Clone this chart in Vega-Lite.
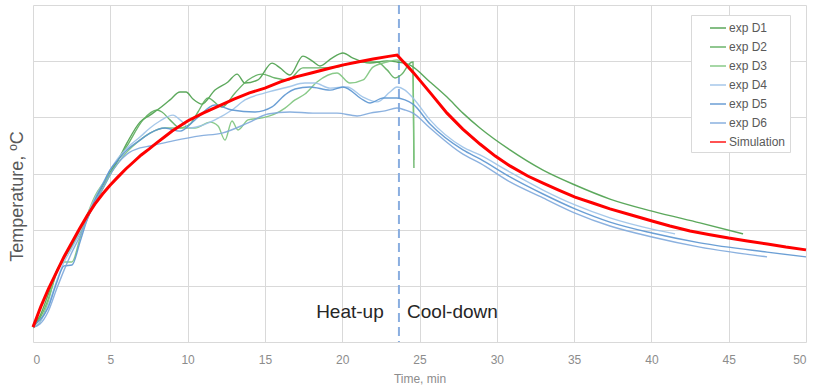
{
  "$schema": "https://vega.github.io/schema/vega-lite/v6.json",
  "width": 773,
  "height": 337,
  "autosize": {"type": "none"},
  "padding": {"left": 33, "top": 5, "right": 10, "bottom": 47},
  "background": "white",
  "config": {
    "font": "Liberation Sans",
    "view": {"stroke": null},
    "axis": {"gridColor": "#d9d9d9", "gridWidth": 1, "domain": false, "ticks": false}
  },
  "datasets": {
    "curves": [
      {"series":"exp D1","time":0,"temp":25.7},{"series":"exp D1","time":0.45,"temp":29.3},{"series":"exp D1","time":0.97,"temp":36.7},{"series":"exp D1","time":1.55,"temp":45.6},{"series":"exp D1","time":2.01,"temp":49.9},{"series":"exp D1","time":2.52,"temp":54.5},{"series":"exp D1","time":3.04,"temp":59.9},{"series":"exp D1","time":3.49,"temp":65.2},{"series":"exp D1","time":4.01,"temp":70.6},{"series":"exp D1","time":4.53,"temp":75.9},{"series":"exp D1","time":4.98,"temp":80.5},{"series":"exp D1","time":5.5,"temp":84.8},{"series":"exp D1","time":6.08,"temp":90.9},{"series":"exp D1","time":6.92,"temp":98.3},{"series":"exp D1","time":7.57,"temp":100.8},{"series":"exp D1","time":8.21,"temp":103.3},{"series":"exp D1","time":8.86,"temp":106.2},{"series":"exp D1","time":9.51,"temp":109.0},{"series":"exp D1","time":9.9,"temp":109.0},{"series":"exp D1","time":10.35,"temp":106.5},{"series":"exp D1","time":10.93,"temp":104.7},{"series":"exp D1","time":11.77,"temp":109.7},{"series":"exp D1","time":12.61,"temp":112.6},{"series":"exp D1","time":13.2,"temp":115.4},{"series":"exp D1","time":13.71,"temp":112.2},{"series":"exp D1","time":14.55,"temp":113.3},{"series":"exp D1","time":15.46,"temp":119.3},{"series":"exp D1","time":15.98,"temp":117.6},{"series":"exp D1","time":16.62,"temp":115.1},{"series":"exp D1","time":17.46,"temp":121.8},{"series":"exp D1","time":18.05,"temp":120.1},{"series":"exp D1","time":18.56,"temp":118.3},{"series":"exp D1","time":19.34,"temp":121.1},{"series":"exp D1","time":20.05,"temp":122.9},{"series":"exp D1","time":20.7,"temp":121.1},{"series":"exp D1","time":21.8,"temp":119.3},{"series":"exp D1","time":22.9,"temp":120.1},{"series":"exp D1","time":23.54,"temp":119.7},{"series":"exp D1","time":24.39,"temp":118.6},{"series":"exp D1","time":25.68,"temp":112.6},{"series":"exp D1","time":26.78,"temp":107.2},{"series":"exp D1","time":27.81,"temp":101.5},{"series":"exp D1","time":28.91,"temp":96.2},{"series":"exp D1","time":30.85,"temp":88.4},{"series":"exp D1","time":32.99,"temp":81.2},{"series":"exp D1","time":35.06,"temp":75.9},{"series":"exp D1","time":37.32,"temp":70.9},{"series":"exp D1","time":40.04,"temp":66.6},{"series":"exp D1","time":43.14,"temp":62.4},{"series":"exp D1","time":45.93,"temp":58.5},

      {"series":"exp D2","time":0,"temp":25.3},{"series":"exp D2","time":0.45,"temp":28.5},{"series":"exp D2","time":0.97,"temp":35.0},{"series":"exp D2","time":1.55,"temp":44.9},{"series":"exp D2","time":2.01,"temp":49.9},{"series":"exp D2","time":2.52,"temp":54.2},{"series":"exp D2","time":3.04,"temp":58.8},{"series":"exp D2","time":3.49,"temp":63.8},{"series":"exp D2","time":4.01,"temp":69.5},{"series":"exp D2","time":4.53,"temp":74.8},{"series":"exp D2","time":4.98,"temp":79.5},{"series":"exp D2","time":5.5,"temp":84.8},{"series":"exp D2","time":6.08,"temp":89.8},{"series":"exp D2","time":7.12,"temp":99.1},{"series":"exp D2","time":8.02,"temp":102.6},{"series":"exp D2","time":8.34,"temp":101.9},{"series":"exp D2","time":8.86,"temp":99.1},{"series":"exp D2","time":9.51,"temp":96.2},{"series":"exp D2","time":10.16,"temp":97.6},{"series":"exp D2","time":10.67,"temp":101.9},{"series":"exp D2","time":11.32,"temp":106.9},{"series":"exp D2","time":12.23,"temp":103.7},{"series":"exp D2","time":13.07,"temp":108.7},{"series":"exp D2","time":13.91,"temp":113.3},{"series":"exp D2","time":14.81,"temp":115.4},{"series":"exp D2","time":15.65,"temp":114.0},{"series":"exp D2","time":16.49,"temp":113.3},{"series":"exp D2","time":17.46,"temp":117.6},{"series":"exp D2","time":18.37,"temp":117.6},{"series":"exp D2","time":19.66,"temp":117.9},{"series":"exp D2","time":20.96,"temp":119.7},{"series":"exp D2","time":22.25,"temp":119.7},{"series":"exp D2","time":22.9,"temp":116.9},{"series":"exp D2","time":23.42,"temp":114.0},{"series":"exp D2","time":23.87,"temp":115.4},{"series":"exp D2","time":24.39,"temp":119.3},{"series":"exp D2","time":24.58,"temp":119.7},{"series":"exp D2","time":24.64,"temp":82.0},

      {"series":"exp D3","time":0,"temp":25.0},{"series":"exp D3","time":0.45,"temp":27.1},{"series":"exp D3","time":0.97,"temp":34.2},{"series":"exp D3","time":1.55,"temp":45.6},{"series":"exp D3","time":2.01,"temp":48.5},{"series":"exp D3","time":2.52,"temp":48.5},{"series":"exp D3","time":3.04,"temp":57.0},{"series":"exp D3","time":3.49,"temp":64.9},{"series":"exp D3","time":4.01,"temp":72.0},{"series":"exp D3","time":4.53,"temp":76.5},{"series":"exp D3","time":4.98,"temp":79.8},{"series":"exp D3","time":5.5,"temp":83.7},{"series":"exp D3","time":6.08,"temp":87.7},{"series":"exp D3","time":6.92,"temp":91.9},{"series":"exp D3","time":7.57,"temp":94.4},{"series":"exp D3","time":8.54,"temp":96.2},{"series":"exp D3","time":9.51,"temp":96.2},{"series":"exp D3","time":10.48,"temp":96.2},{"series":"exp D3","time":11.45,"temp":98.3},{"series":"exp D3","time":11.97,"temp":96.9},{"series":"exp D3","time":12.42,"temp":91.9},{"series":"exp D3","time":12.87,"temp":98.7},{"series":"exp D3","time":13.26,"temp":95.5},{"series":"exp D3","time":13.91,"temp":99.1},{"series":"exp D3","time":14.81,"temp":99.8},{"series":"exp D3","time":15.65,"temp":101.2},{"series":"exp D3","time":16.3,"temp":103.3},{"series":"exp D3","time":16.95,"temp":106.2},{"series":"exp D3","time":17.59,"temp":108.3},{"series":"exp D3","time":18.37,"temp":112.6},{"series":"exp D3","time":19.66,"temp":115.8},{"series":"exp D3","time":20.5,"temp":112.2},{"series":"exp D3","time":21.35,"temp":113.3},{"series":"exp D3","time":21.99,"temp":117.9},{"series":"exp D3","time":22.9,"temp":119.7},{"series":"exp D3","time":23.54,"temp":120.4},{"series":"exp D3","time":24.06,"temp":119.7},{"series":"exp D3","time":24.39,"temp":117.6},{"series":"exp D3","time":24.58,"temp":115.1},{"series":"exp D3","time":24.64,"temp":84.8},

      {"series":"exp D4","time":0,"temp":25.3},{"series":"exp D4","time":0.45,"temp":27.1},{"series":"exp D4","time":0.97,"temp":32.8},{"series":"exp D4","time":1.55,"temp":42.1},{"series":"exp D4","time":2.01,"temp":48.5},{"series":"exp D4","time":2.52,"temp":53.5},{"series":"exp D4","time":3.04,"temp":59.2},{"series":"exp D4","time":3.49,"temp":64.9},{"series":"exp D4","time":4.01,"temp":71.3},{"series":"exp D4","time":4.53,"temp":76.6},{"series":"exp D4","time":4.98,"temp":81.2},{"series":"exp D4","time":5.5,"temp":85.5},{"series":"exp D4","time":6.08,"temp":89.1},{"series":"exp D4","time":6.92,"temp":93.0},{"series":"exp D4","time":7.57,"temp":96.2},{"series":"exp D4","time":8.21,"temp":98.7},{"series":"exp D4","time":9.06,"temp":100.8},{"series":"exp D4","time":9.51,"temp":99.1},{"series":"exp D4","time":10.16,"temp":96.2},{"series":"exp D4","time":10.8,"temp":96.9},{"series":"exp D4","time":11.77,"temp":99.1},{"series":"exp D4","time":12.87,"temp":102.6},{"series":"exp D4","time":13.71,"temp":106.2},{"series":"exp D4","time":15.01,"temp":108.7},{"series":"exp D4","time":16.49,"temp":110.8},{"series":"exp D4","time":17.59,"temp":112.2},{"series":"exp D4","time":18.24,"temp":112.2},{"series":"exp D4","time":19.21,"temp":110.4},{"series":"exp D4","time":20.31,"temp":110.8},{"series":"exp D4","time":21.35,"temp":107.2},{"series":"exp D4","time":22.25,"temp":105.5},{"series":"exp D4","time":23.09,"temp":109.0},{"series":"exp D4","time":23.54,"temp":110.8},{"series":"exp D4","time":24.06,"temp":109.7},{"series":"exp D4","time":24.58,"temp":106.9},{"series":"exp D4","time":25.68,"temp":99.1},{"series":"exp D4","time":27.81,"temp":89.4},{"series":"exp D4","time":28.91,"temp":86.6},{"series":"exp D4","time":30.85,"temp":80.5},{"series":"exp D4","time":32.99,"temp":74.1},{"series":"exp D4","time":35.06,"temp":68.8},{"series":"exp D4","time":37.32,"temp":64.2},{"series":"exp D4","time":40.04,"temp":60.2},{"series":"exp D4","time":41.53,"temp":58.5},

      {"series":"exp D5","time":0,"temp":26.1},{"series":"exp D5","time":0.45,"temp":27.8},{"series":"exp D5","time":0.97,"temp":32.1},{"series":"exp D5","time":1.55,"temp":41.4},{"series":"exp D5","time":2.01,"temp":47.1},{"series":"exp D5","time":2.52,"temp":47.4},{"series":"exp D5","time":3.04,"temp":55.6},{"series":"exp D5","time":3.49,"temp":63.4},{"series":"exp D5","time":4.01,"temp":70.6},{"series":"exp D5","time":4.53,"temp":76.3},{"series":"exp D5","time":4.98,"temp":81.2},{"series":"exp D5","time":5.5,"temp":84.8},{"series":"exp D5","time":6.08,"temp":88.4},{"series":"exp D5","time":6.92,"temp":91.9},{"series":"exp D5","time":7.57,"temp":94.4},{"series":"exp D5","time":8.54,"temp":96.2},{"series":"exp D5","time":9.51,"temp":95.1},{"series":"exp D5","time":10.48,"temp":99.1},{"series":"exp D5","time":11.77,"temp":104.4},{"series":"exp D5","time":12.87,"temp":102.6},{"series":"exp D5","time":14.36,"temp":101.9},{"series":"exp D5","time":15.46,"temp":103.7},{"series":"exp D5","time":16.3,"temp":108.0},{"series":"exp D5","time":16.95,"temp":110.1},{"series":"exp D5","time":17.92,"temp":110.8},{"series":"exp D5","time":19.21,"temp":109.7},{"series":"exp D5","time":20.05,"temp":110.8},{"series":"exp D5","time":21.35,"temp":106.2},{"series":"exp D5","time":21.8,"temp":105.1},{"series":"exp D5","time":22.64,"temp":106.9},{"series":"exp D5","time":23.54,"temp":106.9},{"series":"exp D5","time":24.06,"temp":106.2},{"series":"exp D5","time":24.58,"temp":104.7},{"series":"exp D5","time":25.68,"temp":97.6},{"series":"exp D5","time":27.81,"temp":88.4},{"series":"exp D5","time":28.91,"temp":85.2},{"series":"exp D5","time":30.85,"temp":78.8},{"series":"exp D5","time":32.99,"temp":72.7},{"series":"exp D5","time":35.06,"temp":67.4},{"series":"exp D5","time":37.32,"temp":62.7},{"series":"exp D5","time":40.04,"temp":58.8},{"series":"exp D5","time":43.14,"temp":55.3},{"series":"exp D5","time":47.48,"temp":52.0},{"series":"exp D5","time":50,"temp":50.3},

      {"series":"exp D6","time":0,"temp":25.3},{"series":"exp D6","time":0.45,"temp":26.4},{"series":"exp D6","time":0.97,"temp":30.7},{"series":"exp D6","time":1.55,"temp":39.2},{"series":"exp D6","time":2.01,"temp":45.6},{"series":"exp D6","time":2.52,"temp":52.0},{"series":"exp D6","time":3.04,"temp":57.7},{"series":"exp D6","time":3.49,"temp":63.4},{"series":"exp D6","time":4.01,"temp":69.9},{"series":"exp D6","time":4.53,"temp":74.8},{"series":"exp D6","time":4.98,"temp":79.5},{"series":"exp D6","time":5.5,"temp":83.7},{"series":"exp D6","time":6.08,"temp":86.9},{"series":"exp D6","time":6.92,"temp":89.1},{"series":"exp D6","time":7.57,"temp":89.8},{"series":"exp D6","time":9.06,"temp":91.6},{"series":"exp D6","time":10.8,"temp":93.4},{"series":"exp D6","time":12.23,"temp":94.4},{"series":"exp D6","time":13.91,"temp":98.0},{"series":"exp D6","time":15.2,"temp":101.2},{"series":"exp D6","time":16.62,"temp":101.9},{"series":"exp D6","time":18.11,"temp":101.5},{"series":"exp D6","time":19.66,"temp":101.5},{"series":"exp D6","time":20.96,"temp":100.5},{"series":"exp D6","time":21.8,"temp":101.5},{"series":"exp D6","time":22.77,"temp":102.3},{"series":"exp D6","time":23.54,"temp":103.3},{"series":"exp D6","time":24.06,"temp":102.6},{"series":"exp D6","time":24.58,"temp":101.5},{"series":"exp D6","time":25.68,"temp":96.2},{"series":"exp D6","time":27.81,"temp":86.9},{"series":"exp D6","time":28.91,"temp":83.7},{"series":"exp D6","time":30.85,"temp":77.0},{"series":"exp D6","time":32.99,"temp":71.3},{"series":"exp D6","time":35.06,"temp":65.9},{"series":"exp D6","time":37.32,"temp":61.3},{"series":"exp D6","time":40.04,"temp":57.4},{"series":"exp D6","time":43.14,"temp":53.8},{"series":"exp D6","time":47.48,"temp":50.3},

      {"series":"Simulation","time":0,"temp":25.3},{"series":"Simulation","time":0.25,"temp":28.9},{"series":"Simulation","time":0.5,"temp":32.5},{"series":"Simulation","time":0.75,"temp":35.7},{"series":"Simulation","time":1.0,"temp":38.9},{"series":"Simulation","time":1.5,"temp":44.6},{"series":"Simulation","time":2.0,"temp":50.3},{"series":"Simulation","time":2.5,"temp":55.3},{"series":"Simulation","time":3.0,"temp":60.2},{"series":"Simulation","time":3.5,"temp":64.9},{"series":"Simulation","time":4.0,"temp":69.1},{"series":"Simulation","time":4.5,"temp":72.7},{"series":"Simulation","time":5.0,"temp":75.9},{"series":"Simulation","time":5.5,"temp":78.8},{"series":"Simulation","time":6.0,"temp":81.6},{"series":"Simulation","time":6.5,"temp":84.1},{"series":"Simulation","time":7.0,"temp":86.6},{"series":"Simulation","time":7.5,"temp":88.7},{"series":"Simulation","time":8.0,"temp":90.9},{"series":"Simulation","time":8.5,"temp":93.0},{"series":"Simulation","time":9.0,"temp":95.1},{"series":"Simulation","time":9.5,"temp":96.9},{"series":"Simulation","time":10,"temp":98.7},{"series":"Simulation","time":11,"temp":101.5},{"series":"Simulation","time":12,"temp":104.0},{"series":"Simulation","time":13,"temp":106.5},{"series":"Simulation","time":14,"temp":108.7},{"series":"Simulation","time":15,"temp":110.4},{"series":"Simulation","time":16,"temp":112.6},{"series":"Simulation","time":17,"temp":114.4},{"series":"Simulation","time":18,"temp":115.8},{"series":"Simulation","time":19,"temp":117.2},{"series":"Simulation","time":20,"temp":118.6},{"series":"Simulation","time":21,"temp":119.7},{"series":"Simulation","time":22,"temp":120.8},{"series":"Simulation","time":23,"temp":121.7},{"series":"Simulation","time":23.55,"temp":122.2},{"series":"Simulation","time":24.58,"temp":116.1},{"series":"Simulation","time":25.7,"temp":108.7},{"series":"Simulation","time":26.78,"temp":101.5},{"series":"Simulation","time":27.8,"temp":95.8},{"series":"Simulation","time":28.91,"temp":90.5},{"series":"Simulation","time":29.9,"temp":86.2},{"series":"Simulation","time":30.85,"temp":82.7},{"series":"Simulation","time":32,"temp":79.1},{"series":"Simulation","time":32.99,"temp":76.6},{"series":"Simulation","time":34,"temp":74.1},{"series":"Simulation","time":35.06,"temp":71.6},{"series":"Simulation","time":36.2,"temp":69.5},{"series":"Simulation","time":37.32,"temp":67.4},{"series":"Simulation","time":38.7,"temp":65.2},{"series":"Simulation","time":40.04,"temp":63.1},{"series":"Simulation","time":41.2,"temp":61.3},{"series":"Simulation","time":42.5,"temp":59.5},{"series":"Simulation","time":43.7,"temp":58.3},{"series":"Simulation","time":45,"temp":57.0},{"series":"Simulation","time":46.2,"temp":56.0},{"series":"Simulation","time":47.5,"temp":54.9},{"series":"Simulation","time":48.7,"temp":53.8},{"series":"Simulation","time":50,"temp":52.8}
    ],
    "notes": [
      {"label": "Heat-up", "time": 20.5, "temp": 28.7},
      {"label": "Cool-down", "time": 27.13, "temp": 28.7}
    ],
    "marker": [{"time": 23.67}]
  },
  "layer": [
    {
      "data": {"name": "marker"},
      "mark": {"type": "rule", "color": "#8aaee0", "strokeDash": [9, 5], "strokeWidth": 2},
      "encoding": {
        "x": {"field": "time", "type": "quantitative", "scale": {"domain": [0, 50], "nice": false},
              "axis": {"values": [0,5,10,15,20,25,30,35,40,45,50], "labelFontSize": 12, "labelColor": "#8c8c8c", "labelPadding": 12, "title": "Time, min", "titleFontSize": 12, "titleColor": "#8c8c8c", "titleFontWeight": "normal", "titlePadding": 8}}
      }
    },
    {
      "data": {"name": "curves"},
      "transform": [{"filter": "datum.series !== 'Simulation'"}],
      "mark": {"type": "line", "interpolate": "monotone", "opacity": 0.9, "strokeWidth": 1.4},
      "encoding": {
        "x": {"field": "time", "type": "quantitative", "scale": {"domain": [0, 50], "nice": false},
              "axis": {"values": [0,5,10,15,20,25,30,35,40,45,50], "labelFontSize": 12, "labelColor": "#8c8c8c", "labelPadding": 12, "title": "Time, min", "titleFontSize": 12, "titleColor": "#8c8c8c", "titleFontWeight": "normal", "titlePadding": 8}},
        "y": {"field": "temp", "type": "quantitative", "scale": {"domain": [20, 140], "nice": false, "zero": false},
              "axis": {"values": [20,40,60,80,100,120,140], "labels": false, "title": "Temperature, ºC", "titleFontSize": 18, "titleFontWeight": "normal", "titleColor": "#595959", "titleX": -11, "titleY": 191, "titleBaseline": "alphabetic"}},
        "color": {"field": "series", "type": "nominal",
                  "scale": {"domain": ["exp D1","exp D2","exp D3","exp D4","exp D5","exp D6","Simulation"], "range": ["#4a9e4a","#5cad5c","#7cc47c","#9cc2e8","#5b95d0","#7ea9dc","#ff0000"]},
                  "legend": {"title": null, "orient": "none", "legendX": 658, "legendY": 10, "strokeColor": "#d9d9d9", "fillColor": "white", "padding": 4, "symbolType": "stroke", "symbolSize": 256, "rowPadding": 4, "labelFontSize": 12, "labelColor": "#595959", "labelOffset": 2, "symbolOffset": 14, "labelExpr": "datum.label + '    '",
                             "encode": {"symbols": {"update": {"strokeWidth": {"signal": "datum.value === 'Simulation' ? 3 : 1.5"}}}}}}
      }
    },
    {
      "data": {"name": "curves"},
      "transform": [{"filter": "datum.series === 'Simulation'"}],
      "mark": {"type": "line", "interpolate": "linear", "strokeWidth": 3},
      "encoding": {
        "x": {"field": "time", "type": "quantitative"},
        "y": {"field": "temp", "type": "quantitative"},
        "color": {"field": "series", "type": "nominal"}
      }
    },
    {
      "data": {"name": "notes"},
      "mark": {"type": "text", "fontSize": 19, "color": "#262626", "align": "center", "baseline": "alphabetic"},
      "encoding": {
        "x": {"field": "time", "type": "quantitative"},
        "y": {"field": "temp", "type": "quantitative"},
        "text": {"field": "label"}
      }
    }
  ]
}
